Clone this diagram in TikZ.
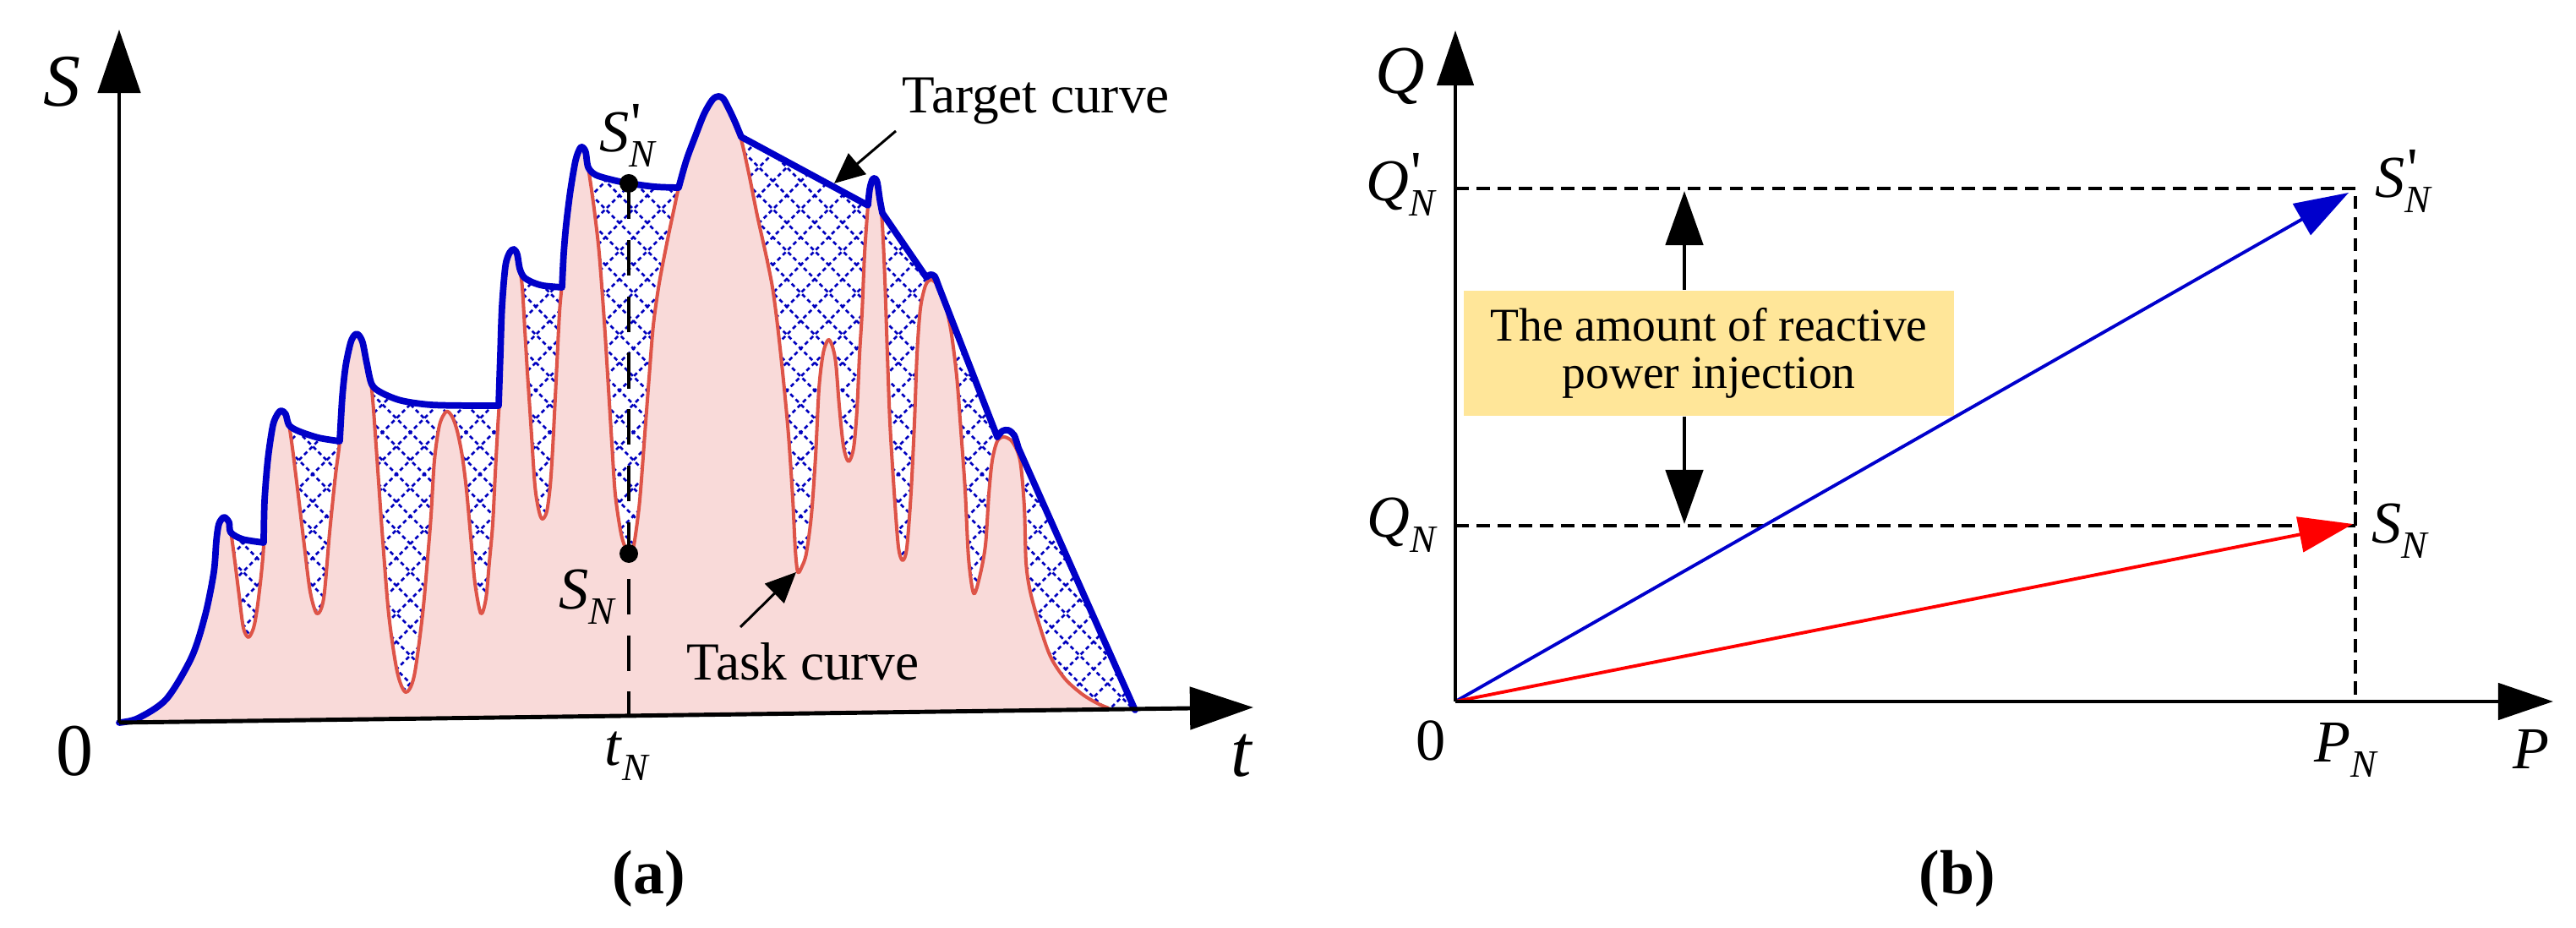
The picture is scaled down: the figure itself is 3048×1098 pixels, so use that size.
\documentclass[tikz,border=0pt]{standalone}
\usepackage{fontspec}
\setmainfont{Liberation Serif}
\usetikzlibrary{arrows.meta}
\definecolor{tgtblue}{RGB}{0,0,200}
\definecolor{taskred}{RGB}{222,84,72}
\definecolor{taskfill}{RGB}{249,218,217}
\definecolor{hatchblue}{RGB}{0,0,190}
\definecolor{boxyellow}{RGB}{255,230,153}
\definecolor{vecblue}{RGB}{0,0,204}
\definecolor{vecred}{RGB}{255,0,0}
\newcommand\symN[1]{\textit{#1}\raisebox{-0.25em}{\fontsize{13}{13}\selectfont\textit{N}}}
\newcommand\symNp[1]{\textit{#1}\rlap{\kern0.03em\raisebox{0.15em}{\upshape\textquotesingle}}\raisebox{-0.25em}{\fontsize{13}{13}\selectfont\textit{N}}}
\newcommand\tgtpath{plot[smooth,tension=0.5] coordinates {(141,855) (163,850) (197,827) (227,777) (243,727) (253,677) (256,640) (259,620) (265,612) (271,618) (273,630) (287,638) (312,642)}
 -- plot[smooth,tension=0.5] coordinates {(312,642) (313,593) (317,543) (323,503) (329,489) (333,486) (338,490) (342,503) (353,510) (377,518) (402,522)}
 -- plot[smooth,tension=0.5] coordinates {(402,522) (405,470) (409,433) (415,405) (420,396) (424,396) (429,405) (434,430) (440,455) (452,465) (475,474) (510,479) (560,480) (590,480)}
 -- plot[smooth,tension=0.5] coordinates {(590,480) (592,420) (594,363) (598,315) (603,299) (608,295) (612,301) (615,318) (620,328) (630,334) (643,338) (665,340)}
 -- plot[smooth,tension=0.5] coordinates {(665,340) (667,300) (670,265) (675,225) (681,190) (686,176) (689,174) (693,180) (696,198) (705,207) (725,213) (745,217) (775,221) (803,222)}
 -- plot[smooth,tension=0.5] coordinates {(803,222) (812,190) (822,163) (833,135) (843,118) (850,114) (856,117) (863,130) (870,145) (877,162)}
 -- (1027,243)
 -- plot[smooth,tension=0.5] coordinates {(1027,243) (1029,224) (1032,213) (1035,211) (1038,216) (1041,236) (1044,252)}
 -- (1096,328)
 -- plot[smooth,tension=0.5] coordinates {(1096,328) (1101,325) (1106,327) (1110,337)}
 -- (1180,517)
 -- plot[smooth,tension=0.5] coordinates {(1180,517) (1186,510) (1193,509) (1200,515) (1205,530)}
 -- (1343,840)}
\newcommand\taskpath{plot[smooth,tension=0.5] coordinates {(141,855) (163,850) (197,827) (227,777) (243,727) (253,677) (256,640) (259,620) (265,612) (271,618) (274,635) (278,665) (283,705) (288,743) (294,754) (300,743) (304,722) (308,690) (311,660) (312,642) (313,593) (317,543) (323,503) (329,489) (333,486) (338,490) (342,503) (346,530) (350,562) (355,603) (360,645) (367,700) (375,726) (383,708) (390,630) (397,562) (402,522) (405,470) (409,433) (415,405) (420,396) (424,396) (429,405) (434,430) (440,462) (445,527) (452,627) (460,727) (470,795) (480,819) (490,800) (500,727) (506,660) (510,610) (514,545) (520,503) (528,487) (535,493) (541,510) (547,540) (552,580) (557,635) (562,690) (569,726) (575,708) (579,665) (583,620) (586,560) (589,505) (591,470) (593,400) (596,340) (600,308) (604,298) (608,295) (612,301) (615,318) (618,340) (621,390) (624,440) (628,500) (633,575) (638,606) (642,614) (647,605) (651,575) (654,530) (658,450) (662,370) (665,335) (667,300) (670,265) (675,225) (681,190) (686,176) (689,174) (693,180) (696,198) (700,225) (704,255) (709,300) (715,380) (720,460) (724,525) (728,585) (735,632) (742,653) (746,655) (750,645) (755,610) (758,580) (763,513) (768,447) (773,385) (780,335) (790,283) (798,245) (803,222) (812,190) (822,163) (833,135) (843,118) (850,114) (856,117) (863,130) (870,145) (877,165) (886,205) (896,255) (906,300) (914,340) (920,385) (927,450) (933,515) (938,590) (941,650) (944,677) (949,670) (954,655) (960,610) (965,540) (969,460) (974,418) (980,402) (985,410) (989,430) (993,480) (998,528) (1004,546) (1010,530) (1014,485) (1017,420) (1020,370) (1023,300) (1027,243) (1029,224) (1032,213) (1035,211) (1038,216) (1041,236) (1044,265) (1047,330) (1050,420) (1053,500) (1058,582) (1063,647) (1068,663) (1073,648) (1078,582) (1082,500) (1085,420) (1089,365) (1095,338) (1101,331) (1108,336) (1117,355) (1125,390) (1132,445) (1137,510) (1142,580) (1146,660) (1152,702) (1159,683) (1166,645) (1170,585) (1174,545) (1180,522) (1188,517) (1198,523) (1207,545) (1212,600) (1214,665) (1219,700) (1230,740) (1243,777) (1260,803) (1280,821) (1298,832) (1312,838)}}
\begin{document}
\begin{tikzpicture}[x=0.01cm, y=-0.01cm,
  axisA/.style={line width=1.4pt, -{Triangle[length=0.75cm,width=0.5cm]}},
  axisB/.style={line width=1.3pt, -{Triangle[length=0.65cm,width=0.43cm]}},
  tgt/.style={draw=tgtblue, line width=2.2pt, line join=round, line cap=round},
  task/.style={draw=taskred, line width=1.15pt, line join=round},
  hatch/.style={hatchblue, line width=0.75pt, dash pattern=on 1.4pt off 1.1pt},
  vdash/.style={line width=1.4pt, dash pattern=on 12pt off 7pt},
  bdash/.style={line width=1.1pt, dash pattern=on 4.5pt off 2.6pt},
  lbl/.style={inner sep=0pt, font=\fontsize{20}{20}\selectfont},
  biglbl/.style={inner sep=0pt, font=\fontsize{25}{25}\selectfont},
  qlbl/.style={inner sep=0pt, font=\fontsize{23}{23}\selectfont},
  note/.style={inner sep=0pt, font=\fontsize{18}{18}\selectfont},
  captxt/.style={inner sep=0pt, font=\fontsize{21}{21}\selectfont\bfseries},
  pointer/.style={line width=0.85pt, -{Triangle[length=0.36cm,width=0.32cm]}},
  dbl/.style={line width=1.4pt, -{Triangle[length=0.64cm,width=0.44cm]}},
  vec/.style={line width=1.1pt, -{Triangle[length=0.64cm,width=0.42cm]}},
  dotmark/.style={circle, fill=black, inner sep=0pt, minimum size=0.22cm},
  ybox/.style={fill=boxyellow, inner sep=0pt, minimum width=5.79cm, minimum height=1.48cm, align=center, font=\fontsize{15.8}{15.9}\selectfont}]
\useasboundingbox (0,0) rectangle (3048,1098);
% ---------- panel (a) ----------
\coordinate (Oa) at (141,855);
\coordinate (Sa) at (141,35);
\coordinate (Ta) at (1483,837);
\coordinate (tN) at (744,847);
\begin{scope}
  \clip \tgtpath -- (Oa) -- cycle;
  \foreach \i in {-46,...,46} {
    \draw[hatch] ({700+33*\i},0) -- ++(1000,1000);
    \draw[hatch] ({700+33*\i},0) -- ++(-1000,1000);
  }
\end{scope}
\fill[taskfill] \taskpath -- (Oa) -- cycle;
\draw[task] \taskpath;
\draw[tgt] \tgtpath;
\draw[axisA] (Oa) -- (Sa);
\draw[axisA] (Oa) -- (Ta);
\coordinate (pSNp) at (744,217);
\coordinate (pSN) at (744,655);
\draw[vdash] (pSNp) -- (tN);
\node[dotmark] (SNp) at (pSNp) {};
\node[dotmark] (SN) at (pSN) {};
\node[note, anchor=base west] (tgtlbl) at (1067,134) {Target curve};
\coordinate (tgtfrom) at (1060,155);
\coordinate (tgttip) at (987,217);
\draw[pointer] (tgtfrom) -- (tgttip);
\node[note, anchor=base west] (tasklbl) at (812,805) {Task curve};
\coordinate (taskfrom) at (876,742);
\coordinate (tasktip) at (942,677);
\draw[pointer] (taskfrom) -- (tasktip);
\node[biglbl, anchor=base west] (Slbl) at (51,126) {\textit{S}};
\node[biglbl] (zeroA) at (88,889) {0};
\node[biglbl] (tlbl) at (1470,894) {\textit{t}};
\node[lbl, anchor=base west] (SNplbl) at (709,180) {\symNp{S}};
\node[lbl, anchor=base west] (SNlbl) at (661,721) {\symN{S}};
\node[lbl, anchor=base west] (tNlbl) at (715,906) {\symN{t}};
\node[captxt] (capA) at (768,1040) {(a)};
% ---------- panel (b) ----------
\coordinate (Ob) at (1722,830);
\coordinate (Qtip) at (1722,36);
\coordinate (Ptip) at (3021,830);
\coordinate (Qpn) at (1722,223);
\coordinate (Qn) at (1722,622);
\coordinate (Spp) at (2787,223);
\coordinate (Sp) at (2787,622);
\coordinate (Pn) at (2787,830);
\coordinate (Sppt) at (2779,228);
\coordinate (Spt) at (2784,620);
\draw[bdash] (Qpn) -- (Spp) -- (Pn);
\draw[bdash] (Qn) -- (Sp);
\node[ybox] (box) at (2022,418) {The amount of reactive\\power injection};
\coordinate (dUp) at (1993,226);
\coordinate (dDn) at (1993,620);
\draw[dbl] (box.north -| dUp) -- (dUp);
\draw[dbl] (box.south -| dDn) -- (dDn);
\draw[vec, vecblue] (Ob) -- (Sppt);
\draw[vec, vecred] (Ob) -- (Spt);
\draw[axisB] (Ob) -- (Qtip);
\draw[axisB] (Ob) -- (Ptip);
\node[qlbl, anchor=base west] (Qlbl) at (1627,111) {\textit{Q}};
\node[lbl, anchor=base west] (QNplbl) at (1616,238) {\symNp{Q}};
\node[lbl, anchor=base west] (QNlbl) at (1617,636) {\symN{Q}};
\node[lbl] (zeroB) at (1693,876) {0};
\node[lbl, anchor=base west] (PNlbl) at (2738,902) {\symN{P}};
\node[lbl, anchor=base west] (Plbl) at (2973,910) {\textit{P}};
\node[lbl, anchor=base west] (SNpB) at (2810,234) {\symNp{S}};
\node[lbl, anchor=base west] (SNB) at (2806,643) {\symN{S}};
\node[captxt] (capB) at (2316,1040) {(b)};
\end{tikzpicture}
\end{document}
